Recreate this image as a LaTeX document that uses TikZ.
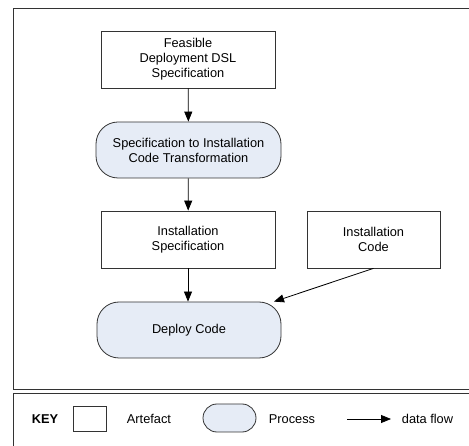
\documentclass[tikz,border=0pt]{standalone}
\usepackage{fontspec}
\setmainfont{Liberation Sans}
\usetikzlibrary{arrows.meta}
\definecolor{procfill}{HTML}{E6ECF6}
\definecolor{linec}{HTML}{333333}
\begin{document}
\begin{tikzpicture}[x=1pt,y=1pt,
  every node/.style={font=\fontsize{12.8}{15}\selectfont, align=center, inner sep=0pt},
  artefact/.style={draw=linec, line width=0.8pt, fill=white},
  process/.style={draw=linec, line width=0.8pt, fill=procfill, rounded corners=22pt},
  flow/.style={draw=black, line width=0.8pt, -{Triangle[length=10pt,width=8pt]}},
  frame/.style={draw=linec, line width=0.9pt}]
\useasboundingbox (0,0) rectangle (469,-446);
\clip (0,0) rectangle (469,-446);
\draw[frame] (13,-8) rectangle (490,-389);
\draw[frame] (13,-393) rectangle (490,-470);

\node[artefact, minimum width=174pt, minimum height=57pt] (fd) at (188,-59.5) {Feasible\\Deployment DSL\\Specification};
\node[process, minimum width=185pt, minimum height=56pt] (st) at (188.5,-150) {Specification to Installation\\Code Transformation};
\node[artefact, minimum width=174pt, minimum height=57pt] (is) at (188,-239.5) {Installation\\Specification};
\node[artefact, minimum width=133pt, minimum height=57pt] (ic) at (373.5,-239.5) {Installation\\Code};
\node[process, minimum width=184pt, minimum height=56pt] (dc) at (189,-330) {Deploy Code};

\draw[flow] (fd) -- (st);
\draw[flow] (st) -- (is);
\draw[flow] (is) -- (is |- dc.north);
\draw[flow] (ic.south) -- (dc);

% key
\node[font=\fontsize{12.8}{15}\selectfont\bfseries] (key) at (45,-419) {KEY};
\node[artefact, minimum width=33pt, minimum height=25pt] (ka) at (89.5,-418.5) {};
\node (kat) at (149,-419) {Artefact};
\node[process, rounded corners=14pt, minimum width=53pt, minimum height=28pt] (kp) at (229.5,-418) {};
\node (kpt) at (292,-419) {Process};
\coordinate (kf1) at (347,-419);
\coordinate (kf2) at (391,-419);
\draw[flow] (kf1) -- (kf2);
\node (kft) at (427.5,-419) {data flow};
\end{tikzpicture}
\end{document}
